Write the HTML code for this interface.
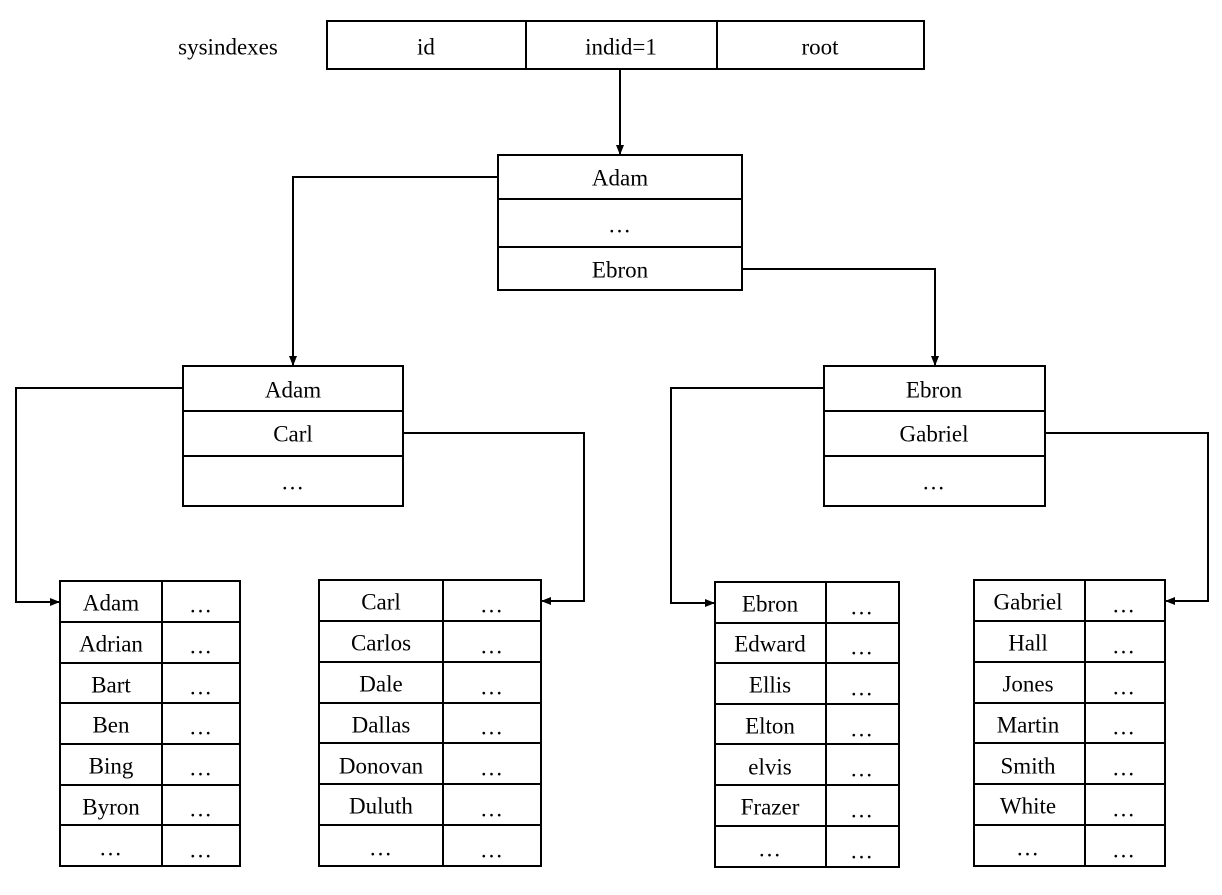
<!DOCTYPE html>
<html><head><meta charset="utf-8"><style>
body{margin:0;background:#fff;}
svg text{font-family:"Liberation Serif",serif;font-size:23px;fill:#000;text-anchor:middle;dominant-baseline:central;}
svg text.d{letter-spacing:1px;}
</style></head><body>
<svg width="1222" height="890" viewBox="0 0 1222 890" xmlns="http://www.w3.org/2000/svg">
<defs><marker id="a" markerWidth="10" markerHeight="10" refX="9" refY="5" orient="auto" markerUnits="userSpaceOnUse"><path d="M0,1 L10,5 L0,9 z" fill="#000"/></marker></defs>
<g stroke="#000" stroke-width="2" fill="none">
<rect x="327" y="21" width="597" height="48"/>
<line x1="526" y1="21" x2="526" y2="69"/><line x1="717" y1="21" x2="717" y2="69"/>
<rect x="498" y="155" width="244" height="135"/>
<line x1="498" y1="199" x2="742" y2="199"/><line x1="498" y1="247" x2="742" y2="247"/>
<rect x="183" y="366" width="220" height="140"/>
<line x1="183" y1="411" x2="403" y2="411"/><line x1="183" y1="456" x2="403" y2="456"/>
<rect x="824" y="366" width="221" height="140"/>
<line x1="824" y1="411" x2="1045" y2="411"/><line x1="824" y1="456" x2="1045" y2="456"/>
<polyline points="620,69 620,154" marker-end="url(#a)"/>
<polyline points="498,177 293,177 293,365" marker-end="url(#a)"/>
<polyline points="742,269 935,269 935,365" marker-end="url(#a)"/>
<polyline points="183,388 16,388 16,602 59,602" marker-end="url(#a)"/>
<polyline points="403,433 584,433 584,601 542,601" marker-end="url(#a)"/>
<polyline points="824,388 671,388 671,603 714,603" marker-end="url(#a)"/>
<polyline points="1045,433 1208,433 1208,601 1166,601" marker-end="url(#a)"/>

<!-- L1 -->
<rect x="60" y="581" width="180" height="285"/>
<line x1="162" y1="581" x2="162" y2="866"/>
<line x1="60" y1="622" x2="240" y2="622"/><line x1="60" y1="663" x2="240" y2="663"/><line x1="60" y1="703" x2="240" y2="703"/><line x1="60" y1="744" x2="240" y2="744"/><line x1="60" y1="785" x2="240" y2="785"/><line x1="60" y1="825" x2="240" y2="825"/>
<!-- L2 -->
<rect x="319" y="580" width="222" height="286"/>
<line x1="443" y1="580" x2="443" y2="866"/>
<line x1="319" y1="621" x2="541" y2="621"/><line x1="319" y1="662" x2="541" y2="662"/><line x1="319" y1="703" x2="541" y2="703"/><line x1="319" y1="743" x2="541" y2="743"/><line x1="319" y1="784" x2="541" y2="784"/><line x1="319" y1="825" x2="541" y2="825"/>
<!-- L3 -->
<rect x="715" y="582" width="184" height="285"/>
<line x1="826" y1="582" x2="826" y2="867"/>
<line x1="715" y1="623" x2="899" y2="623"/><line x1="715" y1="663" x2="899" y2="663"/><line x1="715" y1="704" x2="899" y2="704"/><line x1="715" y1="744" x2="899" y2="744"/><line x1="715" y1="785" x2="899" y2="785"/><line x1="715" y1="826" x2="899" y2="826"/>
<!-- L4 -->
<rect x="974" y="580" width="191" height="286"/>
<line x1="1085" y1="580" x2="1085" y2="866"/>
<line x1="974" y1="621" x2="1165" y2="621"/><line x1="974" y1="662" x2="1165" y2="662"/><line x1="974" y1="703" x2="1165" y2="703"/><line x1="974" y1="743" x2="1165" y2="743"/><line x1="974" y1="784" x2="1165" y2="784"/><line x1="974" y1="825" x2="1165" y2="825"/>
</g>
<text x="228" y="47">sysindexes</text>
<text x="426" y="47">id</text><text x="621" y="47">indid=1</text><text x="820" y="47">root</text>
<text x="620" y="178">Adam</text><text class="d" x="620" y="225">…</text><text x="620" y="270">Ebron</text>
<text x="293" y="390">Adam</text><text x="293" y="434">Carl</text><text class="d" x="293" y="482">…</text>
<text x="934" y="390">Ebron</text><text x="934" y="434">Gabriel</text><text class="d" x="934" y="482">…</text>

<text x="111" y="603">Adam</text><text x="111" y="644">Adrian</text><text x="111" y="685">Bart</text><text x="111" y="725">Ben</text><text x="111" y="766">Bing</text><text x="111" y="807">Byron</text><text class="d" x="111" y="848">…</text>
<text class="d" x="201" y="605">…</text><text class="d" x="201" y="646">…</text><text class="d" x="201" y="687">…</text><text class="d" x="201" y="727">…</text><text class="d" x="201" y="768">…</text><text class="d" x="201" y="809">…</text><text class="d" x="201" y="850">…</text>

<text x="381" y="602">Carl</text><text x="381" y="643">Carlos</text><text x="381" y="684">Dale</text><text x="381" y="725">Dallas</text><text x="381" y="766">Donovan</text><text x="381" y="806">Duluth</text><text class="d" x="381" y="848">…</text>
<text class="d" x="492" y="605">…</text><text class="d" x="492" y="646">…</text><text class="d" x="492" y="687">…</text><text class="d" x="492" y="727">…</text><text class="d" x="492" y="768">…</text><text class="d" x="492" y="809">…</text><text class="d" x="492" y="850">…</text>

<text x="770" y="604">Ebron</text><text x="770" y="644">Edward</text><text x="770" y="685">Ellis</text><text x="770" y="726">Elton</text><text x="770" y="767">elvis</text><text x="770" y="807">Frazer</text><text class="d" x="770" y="849">…</text>
<text class="d" x="862" y="607">…</text><text class="d" x="862" y="647">…</text><text class="d" x="862" y="688">…</text><text class="d" x="862" y="729">…</text><text class="d" x="862" y="769">…</text><text class="d" x="862" y="810">…</text><text class="d" x="862" y="851">…</text>

<text x="1028" y="602">Gabriel</text><text x="1028" y="643">Hall</text><text x="1028" y="684">Jones</text><text x="1028" y="725">Martin</text><text x="1028" y="766">Smith</text><text x="1028" y="806">White</text><text class="d" x="1028" y="848">…</text>
<text class="d" x="1124" y="605">…</text><text class="d" x="1124" y="646">…</text><text class="d" x="1124" y="687">…</text><text class="d" x="1124" y="727">…</text><text class="d" x="1124" y="768">…</text><text class="d" x="1124" y="809">…</text><text class="d" x="1124" y="850">…</text>
</svg>
</body></html>
